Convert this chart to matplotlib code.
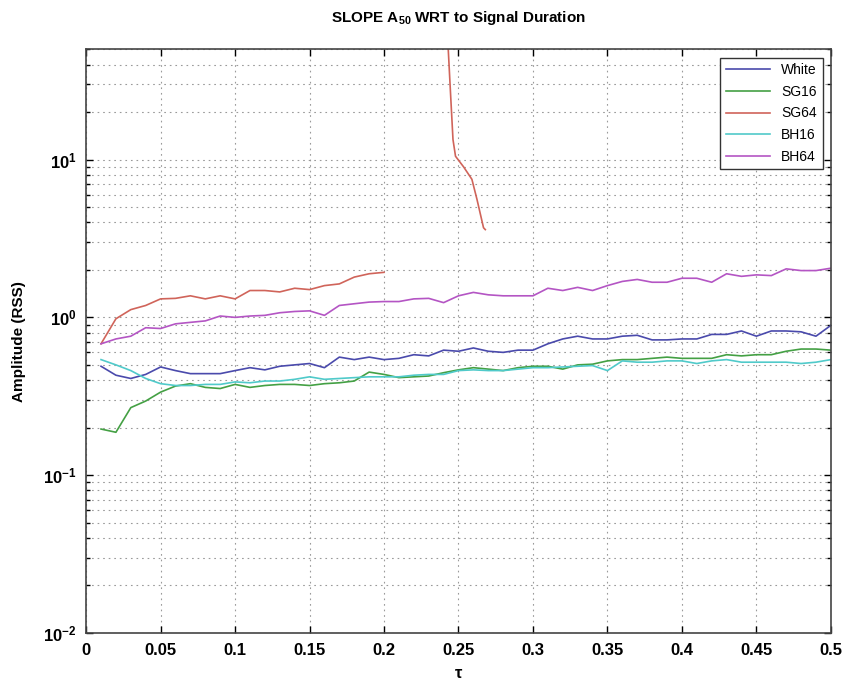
"""
SLOPE A50 WRT to Signal Duration - log amplitude vs tau
"""

import numpy as np
import matplotlib
matplotlib.use('Agg')
import matplotlib.pyplot as plt
from matplotlib.ticker import LogLocator, FixedLocator, NullFormatter

            #### DATA ####

tau = [0.01, 0.02, 0.03, 0.04, 0.05, 0.06, 0.07, 0.08, 0.09, 0.10,
       0.11, 0.12, 0.13, 0.14, 0.15, 0.16, 0.17, 0.18, 0.19, 0.20,
       0.21, 0.22, 0.23, 0.24, 0.25, 0.26, 0.27, 0.28, 0.29, 0.30,
       0.31, 0.32, 0.33, 0.34, 0.35, 0.36, 0.37, 0.38, 0.39, 0.40,
       0.41, 0.42, 0.43, 0.44, 0.45, 0.46, 0.47, 0.48, 0.49, 0.50]

white = [0.49, 0.43, 0.41, 0.435, 0.485, 0.46, 0.44, 0.44, 0.44, 0.46,
         0.48, 0.465, 0.49, 0.50, 0.51, 0.48, 0.56, 0.54, 0.56, 0.54,
         0.55, 0.58, 0.57, 0.62, 0.61, 0.64, 0.61, 0.60, 0.62, 0.62,
         0.68, 0.73, 0.76, 0.73, 0.73, 0.76, 0.77, 0.72, 0.72, 0.73,
         0.73, 0.78, 0.78, 0.82, 0.76, 0.82, 0.82, 0.81, 0.76, 0.89]

sg16 = [0.196, 0.187, 0.268, 0.295, 0.336, 0.367, 0.38, 0.36, 0.354, 0.376,
        0.36, 0.37, 0.376, 0.376, 0.37, 0.38, 0.385, 0.395, 0.45, 0.435,
        0.415, 0.42, 0.425, 0.446, 0.465, 0.48, 0.47, 0.46, 0.48, 0.49,
        0.49, 0.47, 0.50, 0.505, 0.53, 0.54, 0.54, 0.55, 0.56, 0.55,
        0.55, 0.55, 0.58, 0.57, 0.58, 0.58, 0.61, 0.63, 0.63, 0.62]

bh16 = [0.54, 0.50, 0.46, 0.41, 0.38, 0.37, 0.37, 0.376, 0.376, 0.39,
        0.385, 0.395, 0.395, 0.405, 0.42, 0.405, 0.41, 0.415, 0.42, 0.42,
        0.42, 0.43, 0.435, 0.435, 0.46, 0.465, 0.46, 0.46, 0.47, 0.48,
        0.48, 0.485, 0.49, 0.495, 0.46, 0.53, 0.52, 0.52, 0.53, 0.53,
        0.51, 0.53, 0.54, 0.52, 0.52, 0.52, 0.52, 0.51, 0.52, 0.54]

bh64 = [0.68, 0.73, 0.76, 0.86, 0.85, 0.91, 0.93, 0.95, 1.02, 1.00,
        1.02, 1.03, 1.07, 1.09, 1.10, 1.03, 1.19, 1.22, 1.25, 1.26,
        1.26, 1.31, 1.32, 1.24, 1.37, 1.44, 1.39, 1.37, 1.37, 1.37,
        1.53, 1.48, 1.55, 1.48, 1.59, 1.69, 1.74, 1.67, 1.67, 1.77,
        1.77, 1.67, 1.89, 1.82, 1.86, 1.84, 2.03, 1.98, 1.98, 2.05]

# SG64 : first part up to tau = 0.2, then a gap, then a steep tail
sg64_tau = [0.01, 0.02, 0.03, 0.04, 0.05, 0.06, 0.07, 0.08, 0.09, 0.10,
            0.11, 0.12, 0.13, 0.14, 0.15, 0.16, 0.17, 0.18, 0.19, 0.20,
            0.242, 0.2445, 0.2463, 0.248, 0.2534, 0.259, 0.2624, 0.2668, 0.268]
sg64 = [0.68, 0.98, 1.12, 1.19, 1.31, 1.32, 1.37, 1.31, 1.37, 1.31,
        1.48, 1.48, 1.45, 1.53, 1.50, 1.59, 1.63, 1.80, 1.89, 1.93,
        80.0, 28.0, 13.4, 10.5, 9.0, 7.5, 5.6, 3.7, 3.6]
sg64_gap = 20                               # index where the curve breaks

names = ['White', 'SG16', 'SG64', 'BH16', 'BH64']
colors = ['#4a4aac', '#44a044', '#d0645a', '#50caca', '#b455c4']

            #### FONTS ####

plt.rcParams['font.family'] = ['Liberation Sans', 'DejaVu Sans']
plt.rcParams['font.weight'] = 'bold'
plt.rcParams['mathtext.fontset'] = 'custom'
plt.rcParams['mathtext.rm'] = 'Liberation Sans:bold'
plt.rcParams['mathtext.bf'] = 'Liberation Sans:bold'
plt.rcParams['mathtext.default'] = 'bf'

            #### PLOT ####

fig = plt.figure(figsize=(8.57, 6.85), dpi=100)
ax = fig.add_axes([0.1005, 0.076, 0.869, 0.852])

t = np.array(tau)
ax.plot(t, white, color=colors[0], lw=1.2, label=names[0])
ax.plot(t, sg16, color=colors[1], lw=1.2, label=names[1])
st = np.array(sg64_tau)
sv = np.array(sg64)
ax.plot(st[:sg64_gap], sv[:sg64_gap], color=colors[2], lw=1.2, label=names[2])
ax.plot(st[sg64_gap:], sv[sg64_gap:], color=colors[2], lw=1.2)
ax.plot(t, bh16, color=colors[3], lw=1.2, label=names[3])
ax.plot(t, bh64, color=colors[4], lw=1.2, label=names[4])

ax.set_yscale('log')
ax.set_xlim(0, 0.5)
ax.set_ylim(0.01, 50)

xt = np.arange(0, 0.501, 0.05)
ax.xaxis.set_major_locator(FixedLocator(xt))
ax.set_xticklabels(['0', '0.05', '0.1', '0.15', '0.2', '0.25',
                    '0.3', '0.35', '0.4', '0.45', '0.5'])
ax.yaxis.set_major_locator(LogLocator(base=10, numticks=10))
ax.yaxis.set_minor_locator(LogLocator(base=10, subs=np.arange(2, 10), numticks=20))
ax.yaxis.set_minor_formatter(NullFormatter())

ax.tick_params(axis='both', which='both', direction='in', top=True, right=True,
               labelsize=12, width=1.0)
ax.tick_params(axis='both', which='major', length=5, pad=7)
ax.tick_params(axis='y', which='minor', length=3)

grid_style = dict(color='#9a9a9a', linestyle=(0, (1.5, 3.5)), linewidth=0.8)
ax.grid(True, which='major', axis='both', **grid_style)
ax.grid(True, which='minor', axis='y', **grid_style)

for sp in ax.spines.values():
    sp.set_linewidth(1.2)
    sp.set_color('#444444')

ax.set_title(r'SLOPE A$_{50}$ WRT to Signal Duration', fontsize=11,
             fontweight='bold', pad=20)
ax.set_ylabel('Amplitude (RSS)', fontsize=11, fontweight='bold', labelpad=12)
ax.set_xlabel(r'$\tau$', fontsize=12, labelpad=6)

leg = ax.legend(loc='upper right', prop={'size': 10, 'weight': 'normal'},
                handlelength=3.2, fancybox=False, framealpha=1,
                edgecolor='#333333', borderaxespad=0.6, labelspacing=0.55)
leg.get_frame().set_linewidth(1.0)

plt.savefig('out.png', dpi=100)
plt.close()
